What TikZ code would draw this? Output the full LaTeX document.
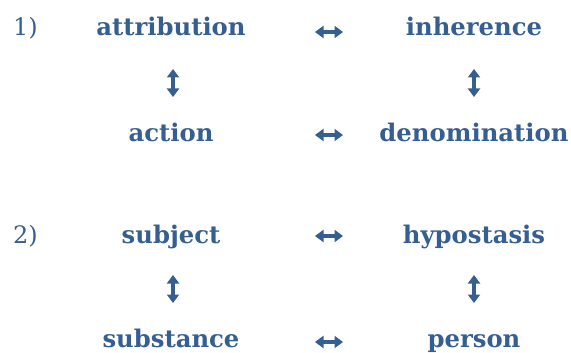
\documentclass[tikz,border=0pt]{standalone}
\usepackage{fontspec}
\setmainfont{DejaVu Serif}
\usetikzlibrary{arrows.meta}
\definecolor{termblue}{HTML}{365F91}
\begin{document}
\begin{tikzpicture}[x=1pt, y=-1pt, font=\fontsize{24}{28}\selectfont, text=termblue]
      \tikzset{term/.style={anchor=base, inner sep=0pt, font=\fontsize{24.3}{28}\selectfont\bfseries},
        num/.style={anchor=base west, inner sep=0pt},
        pair/.style={draw=termblue, line width=3.4pt, {Triangle[length=8.5pt,width=12pt]}-{Triangle[length=8.5pt,width=12pt]}}}
      \useasboundingbox (0,0) rectangle (571,353);
      % group 1
      \node[num] (one) at (13,36) {1)};
      \node[term] (attr) at (171,36) {attribution};
      \node[term] (inh) at (474,36) {inherence};
      \node[term] (act) at (171,142) {action};
      \node[term] (den) at (474,142) {denomination};
      \coordinate (h1a) at (315,32); \coordinate (h1b) at (343,32);
      \coordinate (h2a) at (315,135); \coordinate (h2b) at (343,135);
      \coordinate (v1a) at (173,69); \coordinate (v1b) at (173,97);
      \coordinate (v2a) at (474,69); \coordinate (v2b) at (474,97);
      \draw[pair] (h1a) -- (h1b);
      \draw[pair] (h2a) -- (h2b);
      \draw[pair] (v1a) -- (v1b);
      \draw[pair] (v2a) -- (v2b);
      % group 2
      \node[num] (two) at (13,243) {2)};
      \node[term] (subj) at (171,243) {subject};
      \node[term] (hyp) at (474,243) {hypostasis};
      \node[term] (subs) at (171,347) {substance};
      \node[term] (pers) at (474,347) {person};
      \coordinate (h3a) at (315,236); \coordinate (h3b) at (343,236);
      \coordinate (h4a) at (315,342); \coordinate (h4b) at (343,342);
      \coordinate (v3a) at (173,275); \coordinate (v3b) at (173,303);
      \coordinate (v4a) at (474,275); \coordinate (v4b) at (474,303);
      \draw[pair] (h3a) -- (h3b);
      \draw[pair] (h4a) -- (h4b);
      \draw[pair] (v3a) -- (v3b);
      \draw[pair] (v4a) -- (v4b);
    \end{tikzpicture}
\end{document}
